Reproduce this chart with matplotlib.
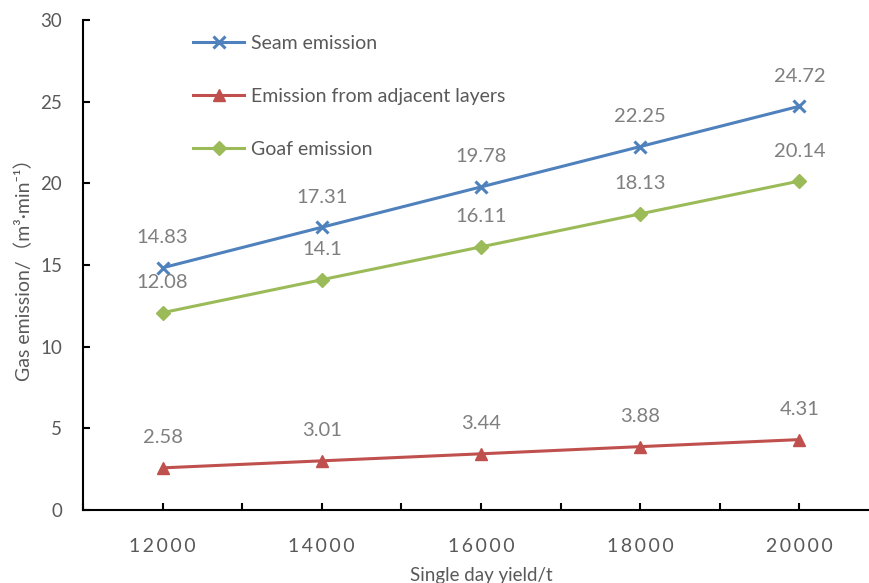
import matplotlib
matplotlib.use("Agg")
import matplotlib.pyplot as plt
from matplotlib.ticker import MultipleLocator, FuncFormatter

# ---- data ----
yield_t = [12000, 14000, 16000, 18000, 20000]
seam = [14.83, 17.31, 19.78, 22.25, 24.72]
adjacent = [2.58, 3.01, 3.44, 3.88, 4.31]
goaf = [12.08, 14.1, 16.11, 18.13, 20.14]
series_names = ["Seam emission", "Emission from adjacent layers", "Goaf emission"]
x_label = "Single day yield/t"
y_label = "Gas emission/（m³·min⁻¹）"

FAM = ["Lato", "Noto Sans CJK SC", "DejaVu Sans"]
plt.rcParams['font.family'] = FAM
TICK_C = "#595959"
LAB_C = "#7f7f7f"

fig = plt.figure(figsize=(8.7, 5.83), dpi=100)
W, H = 870, 583
left, right, top, bottom = 83, 879, 20, 510
ax = fig.add_axes([left / W, 1 - bottom / H, (right - left) / W, (bottom - top) / H])

colors = ["#4F81BD", "#C0504D", "#9BBB59"]
markers = ["x", "^", "D"]
msizes = [9, 9, 7]
mews = [2.2, 1, 1]
for vals, name, c, m, ms, mew in zip([seam, adjacent, goaf], series_names, colors, markers, msizes, mews):
    ax.plot(yield_t, vals, color=c, lw=2.2, marker=m, markersize=ms,
            markeredgewidth=mew, markeredgecolor=c, markerfacecolor=c, label=name,
            clip_on=False, zorder=3)
    for xv, yv in zip(yield_t, vals):
        ax.annotate(f"{yv:g}", (xv, yv), xytext=(0, 30), textcoords="offset pixels",
                    ha="center", va="center", fontsize=14.5, color=LAB_C)

ax.set_xlim(11000, 21000)
ax.set_ylim(0, 30)
ax.xaxis.set_major_locator(MultipleLocator(1000))
ax.yaxis.set_major_locator(MultipleLocator(5))

def xfmt(v, pos):
    if int(round(v)) % 2000 == 0 and 12000 <= v <= 20000:
        return "\u2009".join(str(int(round(v))))
    return ""
ax.xaxis.set_major_formatter(FuncFormatter(xfmt))

for s in ["top", "right"]:
    ax.spines[s].set_visible(False)
for s in ["left", "bottom"]:
    ax.spines[s].set_linewidth(1.5)
    ax.spines[s].set_color("black")

ax.tick_params(axis="both", direction="in", length=5, width=1.5, colors="black",
               labelcolor=TICK_C)
ax.tick_params(axis="x", pad=20, labelsize=14)
ax.tick_params(axis="y", pad=15, labelsize=13.5)

ax.set_xlabel(x_label, fontsize=13.5, color=TICK_C, labelpad=9)
ax.set_ylabel(y_label, fontsize=14, color=TICK_C)
ax.yaxis.set_label_coords(-0.063, 0.5)

leg = ax.legend(loc="upper left", bbox_to_anchor=(0.129, 0.985), frameon=False,
                fontsize=14, labelcolor=TICK_C, handlelength=2.6,
                handletextpad=0.35, labelspacing=1.85, borderaxespad=0)

fig.savefig("out.png", dpi=100)
